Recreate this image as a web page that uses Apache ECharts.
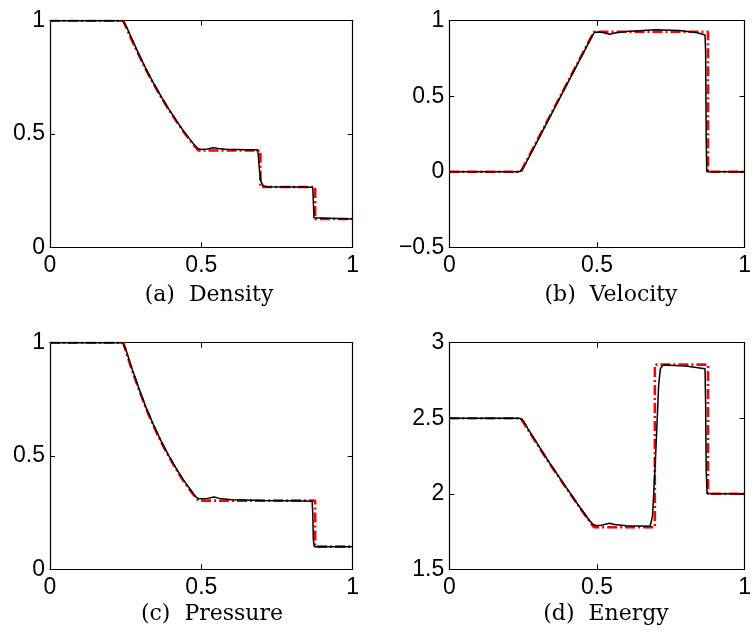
<!DOCTYPE html>
<html><head><meta charset="utf-8">
<script src="https://cdn.jsdelivr.net/npm/echarts@6/dist/echarts.min.js"></script>
<style>html,body{margin:0;padding:0;background:#fff}#c{width:754px;height:634px}</style>
</head><body><div id="c"></div>
<script>
const xTicks = [0, 0.5, 1];
const captions = ['(a)  Density', '(b)  Velocity', '(c)  Pressure', '(d)  Energy'];
const yRanges = [[0, 1, 0.5], [-0.5, 1, 0.5], [0, 1, 0.5], [1.5, 3, 0.5]];

const densityExact = [[0,1],[0.242,1],[0.267,0.924],[0.292,0.853],[0.316,0.786],[0.341,0.724],[0.366,0.665],[0.391,0.610],[0.416,0.559],[0.440,0.512],[0.465,0.468],[0.490,0.427],[0.695,0.427],[0.695,0.266],[0.876,0.266],[0.876,0.125],[1,0.125]];
const densityNum = [[0,1],[0.232,1],[0.242,0.997],[0.252,0.975],[0.267,0.93],[0.292,0.857],[0.316,0.79],[0.341,0.727],[0.366,0.668],[0.391,0.613],[0.416,0.562],[0.440,0.515],[0.465,0.472],[0.480,0.447],[0.490,0.435],[0.500,0.432],[0.520,0.434],[0.540,0.439],[0.555,0.436],[0.580,0.433],[0.650,0.431],[0.684,0.430],[0.688,0.41],[0.692,0.34],[0.697,0.29],[0.704,0.272],[0.715,0.267],[0.800,0.266],[0.868,0.265],[0.870,0.2],[0.872,0.13],[0.875,0.125],[1,0.125]];

const velocityExact = [[0,0],[0.242,0],[0.490,0.927],[0.876,0.927],[0.876,0],[1,0]];
const velocityNum = [[0,0],[0.235,0],[0.243,0.005],[0.252,0.03],[0.300,0.21],[0.400,0.585],[0.480,0.885],[0.490,0.92],[0.500,0.925],[0.520,0.922],[0.543,0.91],[0.560,0.918],[0.600,0.928],[0.700,0.94],[0.780,0.935],[0.840,0.92],[0.866,0.905],[0.868,0.8],[0.870,0.2],[0.872,0],[1,0]];

const pressureExact = [[0,1],[0.242,1],[0.267,0.895],[0.292,0.800],[0.316,0.714],[0.341,0.636],[0.366,0.565],[0.391,0.501],[0.416,0.443],[0.440,0.392],[0.465,0.345],[0.490,0.303],[0.876,0.303],[0.876,0.1],[1,0.1]];
const pressureNum = [[0,1],[0.232,1],[0.242,0.997],[0.252,0.965],[0.267,0.9],[0.292,0.804],[0.316,0.718],[0.341,0.64],[0.366,0.569],[0.391,0.505],[0.416,0.447],[0.440,0.396],[0.465,0.350],[0.480,0.322],[0.490,0.312],[0.500,0.311],[0.520,0.313],[0.542,0.319],[0.560,0.313],[0.600,0.307],[0.700,0.304],[0.800,0.302],[0.866,0.300],[0.868,0.25],[0.870,0.13],[0.873,0.1],[1,0.1]];

const energyExact = [[0,2.5],[0.242,2.5],[0.267,2.422],[0.292,2.346],[0.316,2.271],[0.341,2.196],[0.366,2.124],[0.391,2.052],[0.416,1.982],[0.440,1.913],[0.465,1.845],[0.490,1.778],[0.696,1.778],[0.696,2.855],[0.876,2.855],[0.876,2],[1,2]];
const energyNum = [[0,2.5],[0.235,2.5],[0.243,2.497],[0.252,2.48],[0.267,2.428],[0.292,2.35],[0.341,2.2],[0.391,2.056],[0.440,1.917],[0.470,1.835],[0.485,1.8],[0.495,1.79],[0.515,1.792],[0.543,1.805],[0.560,1.797],[0.600,1.789],[0.680,1.785],[0.688,1.85],[0.695,2.1],[0.702,2.4],[0.709,2.72],[0.715,2.83],[0.725,2.852],[0.800,2.845],[0.866,2.828],[0.868,2.6],[0.870,2.15],[0.873,2.0],[1,2]];

const exactSets = [densityExact, velocityExact, pressureExact, energyExact];
const numSets = [densityNum, velocityNum, pressureNum, energyNum];

const grids = [
  {left: 50, top: 20.7, width: 302.7, height: 226.6},
  {left: 449.3, top: 20.7, width: 302.7, height: 226.6},
  {left: 50, top: 342.7, width: 302.7, height: 226.6},
  {left: 449.3, top: 342.7, width: 302.7, height: 226.6}
];
const capPos = [[209, 295], [611, 295], [212, 614], [606, 614]];

const tickFont = {fontFamily: '"Liberation Sans", Arial, Helvetica, sans-serif', fontSize: 23, color: '#000'};
function fmt(v){ const s = String(+v.toFixed(2)); return s.replace('-', '\u2212'); }

const xAxis = [], yAxis = [], series = [];
grids.forEach((g, i) => {
  const [ymin, ymax, yint] = yRanges[i];
  const common = {
    gridIndex: i, type: 'value',
    splitLine: {show: false},
    axisLine: {show: true, onZero: false, lineStyle: {color: '#000', width: 1.2}},
    axisTick: {show: true, inside: true, length: 5, lineStyle: {color: '#000', width: 1}}
  };
  xAxis.push(Object.assign({}, common, {position: 'bottom', min: xTicks[0], max: xTicks[xTicks.length-1], interval: 0.5,
    axisLabel: Object.assign({margin: 7, formatter: fmt, showMinLabel: true, showMaxLabel: true}, tickFont)}));
  xAxis.push(Object.assign({}, common, {position: 'top', min: 0, max: 1, interval: 0.5, axisLabel: {show: false}}));
  yAxis.push(Object.assign({}, common, {position: 'left', min: ymin, max: ymax, interval: yint,
    axisLabel: Object.assign({margin: 5, formatter: fmt, showMinLabel: true, showMaxLabel: true}, tickFont)}));
  yAxis.push(Object.assign({}, common, {position: 'right', min: ymin, max: ymax, interval: yint, axisLabel: {show: false}}));
  series.push({type: 'line', xAxisIndex: 2*i, yAxisIndex: 2*i, data: exactSets[i], showSymbol: false,
    lineStyle: {color: '#ff0000', width: 2.6, type: [10, 3, 2, 3]}, z: 2});
  series.push({type: 'line', xAxisIndex: 2*i, yAxisIndex: 2*i, data: numSets[i], showSymbol: false,
    lineStyle: {color: '#000', width: 1.5}, z: 3});
});

const graphic = captions.map((t, i) => ({
  type: 'text', x: capPos[i][0], y: capPos[i][1],
  style: {text: t, font: '22px "DejaVu Serif"', fill: '#000', textAlign: 'center', textVerticalAlign: 'middle'}
}));

const chart = echarts.init(document.getElementById('c'), null, {renderer: 'canvas'});
chart.setOption({animation: false, grid: grids, xAxis, yAxis, series, graphic});
</script></body></html>
